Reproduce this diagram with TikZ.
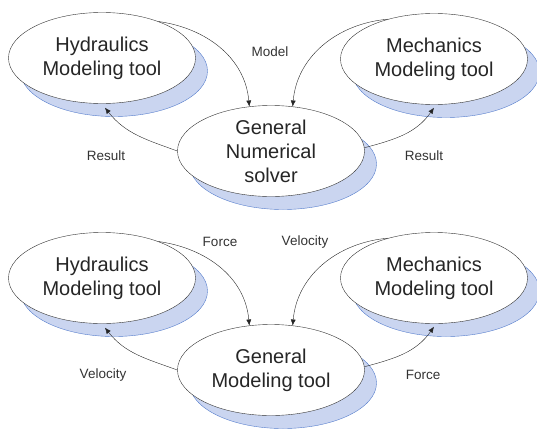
\documentclass[tikz,border=0pt]{standalone}
\usepackage{fontspec}
\setmainfont{Liberation Sans}
\usetikzlibrary{shapes.geometric,shadows,arrows.meta}
\definecolor{shadowfill}{RGB}{202,213,240}
\definecolor{shadowline}{RGB}{84,124,204}
\tikzset{
  tool/.style={ellipse, draw=black!80, fill=white, minimum width=187pt, minimum height=91pt,
    inner sep=-2pt, align=center, font=\fontsize{20}{24}\selectfont, text=black!85,
    drop shadow={shadow xshift=12pt, shadow yshift=-13pt, fill=shadowfill, draw=shadowline, opacity=1}},
  flow/.style={-{Latex[length=6pt,width=5pt]}, black!85},
  lbl/.style={font=\fontsize{13.5}{16}\selectfont, text=black!80},
}
\begin{document}
\begin{tikzpicture}[x=1pt,y=1pt]
    \useasboundingbox (0,0) rectangle (537,-428);

    % Upper loop: tools around the numerical solver
    \node[tool] (hydA) at (102,-58) {Hydraulics\\Modeling tool};
    \node[tool] (mechA) at (434,-59) {Mechanics\\Modeling tool};
    \node[tool] (solver) at (271,-151) {General\\Numerical\\solver};

    \draw[flow] (hydA.33) to[out=-8,in=95] (solver.116);
    \draw[flow] (mechA.139) to[out=185,in=85] (solver.64);
    \draw[flow] (solver.west) to[out=160,in=-52] ([shift={(3pt,-4pt)}]hydA.south);
    \draw[flow] (solver.2) to[out=15,in=-125] ([yshift=-3pt]mechA.south);

    \node[lbl] (mdl) at (270,-52) {Model};
    \node[lbl] (resA) at (106,-156) {Result};
    \node[lbl] (resB) at (424,-156) {Result};

    % Lower loop: tools around the general modeling tool
    \node[tool] (hydB) at (102,-278) {Hydraulics\\Modeling tool};
    \node[tool] (mechB) at (434,-278) {Mechanics\\Modeling tool};
    \node[tool] (general) at (271,-370) {General\\Modeling tool};

    \draw[flow] (hydB.33) to[out=-8,in=95] (general.116);
    \draw[flow] (mechB.139) to[out=185,in=85] (general.64);
    \draw[flow] (general.west) to[out=160,in=-52] ([shift={(3pt,-4pt)}]hydB.south);
    \draw[flow] (general.2) to[out=15,in=-125] ([yshift=-3pt]mechB.south);

    \node[lbl] (frcA) at (220,-242) {Force};
    \node[lbl] (velA) at (305,-242) {Velocity};
    \node[lbl] (velB) at (103,-375) {Velocity};
    \node[lbl] (frcB) at (423,-375) {Force};
\end{tikzpicture}
\end{document}
